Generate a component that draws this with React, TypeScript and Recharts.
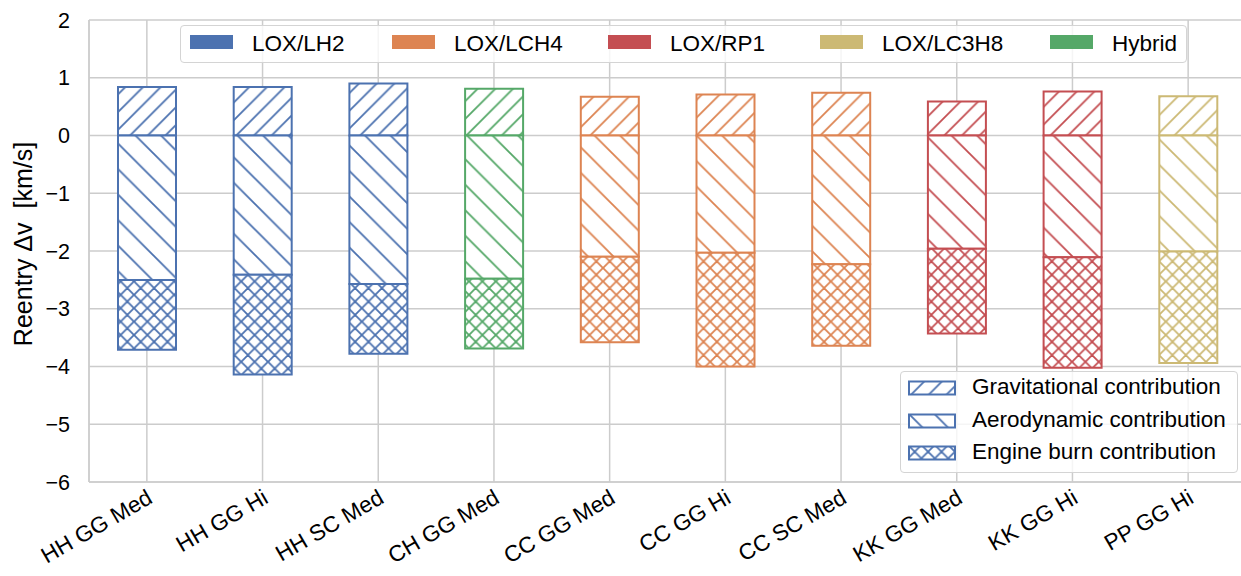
import { Bar, BarChart, CartesianGrid, Cell, XAxis, YAxis } from 'recharts'

const categories = [
  'HH GG Med',
  'HH GG Hi',
  'HH SC Med',
  'CH GG Med',
  'CC GG Med',
  'CC GG Hi',
  'CC SC Med',
  'KK GG Med',
  'KK GG Hi',
  'PP GG Hi',
]
const propellants = [
  'LOX/LH2',
  'LOX/LH2',
  'LOX/LH2',
  'Hybrid',
  'LOX/LCH4',
  'LOX/LCH4',
  'LOX/LCH4',
  'LOX/RP1',
  'LOX/RP1',
  'LOX/LC3H8',
]
const gravitational = [0.84, 0.84, 0.9, 0.81, 0.67, 0.71, 0.74, 0.59, 0.76, 0.68]
const aerodynamic = [-2.5, -2.41, -2.57, -2.48, -2.1, -2.03, -2.23, -1.96, -2.11, -2.01]
const engineBurn = [-1.21, -1.73, -1.21, -1.21, -1.48, -1.97, -1.41, -1.47, -1.91, -1.93]
const yTicks = [-6, -5, -4, -3, -2, -1, 0, 1, 2]

const fuelNames = ['LOX/LH2', 'LOX/LCH4', 'LOX/RP1', 'LOX/LC3H8', 'Hybrid']
const fuelColors = ['#4c72b0', '#dd8452', '#c44e52', '#ccb974', '#55a868']
const contributionNames = ['Gravitational contribution', 'Aerodynamic contribution', 'Engine burn contribution']

const data = categories.map((name, i) => ({
  name,
  fuel: propellants[i],
  grav: gravitational[i],
  aero: aerodynamic[i],
  engine: engineBurn[i],
}))

const FONT = '"Liberation Sans", Arial, Helvetica, sans-serif'
const GRID = '#cccccc'

type Kind = 'grav' | 'aero' | 'engine'
const hatchSpacing: Record<Kind, number> = { grav: 17.7, aero: 25.5, engine: 13.4 }

function hatchPath(kind: Kind) {
  const p = hatchSpacing[kind]
  const fwd = `M0,${p} L${p},0 M${-p / 2},${p / 2} L${p / 2},${-p / 2} M${p / 2},${1.5 * p} L${1.5 * p},${p / 2}`
  const back = `M0,0 L${p},${p} M${-p / 2},${p / 2} L${p / 2},${1.5 * p} M${p / 2},${-p / 2} L${1.5 * p},${p / 2}`
  if (kind === 'grav') return fwd
  if (kind === 'aero') return back
  return `${fwd} ${back}`
}

function HatchPattern({ id, kind, color }: { id: string; kind: Kind; color: string }) {
  const p = hatchSpacing[kind]
  return (
    <pattern id={id} patternUnits="userSpaceOnUse" width={p} height={p}>
      <rect width={p} height={p} fill="#ffffff" />
      <path d={hatchPath(kind)} stroke={color} strokeWidth={1.8} fill="none" />
    </pattern>
  )
}

const kinds: Kind[] = ['grav', 'aero', 'engine']

function patternId(kind: Kind, fuel: string) {
  return `${kind}-${fuelNames.indexOf(fuel)}`
}

function XTick({ x, y, payload }: any) {
  const ax = x + 7
  const ay = y + 20
  return (
    <text
      x={ax}
      y={ay}
      textAnchor="end"
      transform={`rotate(-30 ${ax} ${ay})`}
      fontSize={22.5}
      fontFamily={FONT}
      fill="#000"
    >
      {payload.value}
    </text>
  )
}

function YTick({ x, y, payload }: any) {
  const v = payload.value as number
  return (
    <text x={x - 19} y={y + 7.5} textAnchor="end" fontSize={21.5} fontFamily={FONT} fill="#000">
      {v < 0 ? `\u2212${Math.abs(v)}` : `${v}`}
    </text>
  )
}

function YLabel() {
  return (
    <text
      x={32}
      y={244}
      transform="rotate(-90 32 244)"
      textAnchor="middle"
      fontSize={25}
      fontFamily={FONT}
      fill="#000"
      style={{ whiteSpace: 'pre' }}
    >
      {'Reentry \u0394v  [km/s]'}
    </text>
  )
}

function FuelLegend() {
  const swatchX = [10, 212, 428, 640, 870]
  return (
    <div
      style={{
        position: 'absolute',
        left: 180,
        top: 25,
        width: 1007,
        height: 38,
        boxSizing: 'border-box',
        border: '1.2px solid #d4d4d4',
        borderRadius: 4,
        background: 'rgba(255,255,255,0.8)',
        fontFamily: FONT,
        fontSize: 22.5,
      }}
    >
      {fuelNames.map((name, i) => (
        <div key={name}>
          <div
            style={{
              position: 'absolute',
              left: swatchX[i] - 1,
              top: 9,
              width: 43,
              height: 14,
              background: fuelColors[i],
            }}
          />
          <div style={{ position: 'absolute', left: swatchX[i] - 1 + 62, top: 0, lineHeight: '36px', whiteSpace: 'nowrap' }}>
            {name}
          </div>
        </div>
      ))}
    </div>
  )
}

function ContributionLegend() {
  const rows = [16, 49, 81]
  return (
    <div
      style={{
        position: 'absolute',
        left: 900,
        top: 371,
        width: 338,
        height: 102,
        boxSizing: 'border-box',
        border: '1.2px solid #d4d4d4',
        borderRadius: 4,
        background: 'rgba(255,255,255,0.8)',
        fontFamily: FONT,
        fontSize: 22.5,
      }}
    >
      {contributionNames.map((name, i) => (
        <div key={name}>
          <svg style={{ position: 'absolute', left: 7, top: rows[i] - 8 }} width={48} height={16}>
            <defs>
              <HatchPattern id={`leg-${kinds[i]}`} kind={kinds[i]} color={fuelColors[0]} />
            </defs>
            <rect x={1} y={1.5} width={46} height={13} fill={`url(#leg-${kinds[i]})`} stroke={fuelColors[0]} strokeWidth={2} />
          </svg>
          <div
            style={{
              position: 'absolute',
              left: 71,
              top: rows[i] - 17,
              lineHeight: '32px',
              whiteSpace: 'nowrap',
            }}
          >
            {name}
          </div>
        </div>
      ))}
    </div>
  )
}

export default function App() {
  return (
    <div style={{ position: 'relative', width: 1260, height: 576, background: '#fff' }}>
      <style>{'body{margin:0;overflow:hidden;background:#fff}'}</style>
      <BarChart
        width={1260}
        height={576}
        data={data}
        stackOffset="sign"
        barSize={58}
        margin={{ top: 20, right: 14, bottom: 0, left: 0 }}
      >
        <defs>
          {kinds.map((kind) =>
            fuelNames.map((fuel, i) => (
              <HatchPattern key={`${kind}-${i}`} id={patternId(kind, fuel)} kind={kind} color={fuelColors[i]} />
            )),
          )}
        </defs>
        <CartesianGrid stroke={GRID} strokeWidth={1.5} />
        <XAxis
          dataKey="name"
          interval={0}
          height={94}
          tickLine={false}
          tickSize={0}
          tickMargin={0}
          axisLine={{ stroke: GRID, strokeWidth: 1.5 }}
          tick={<XTick />}
        />
        <YAxis
          width={89}
          domain={[-6, 2]}
          ticks={yTicks}
          tickLine={false}
          tickSize={0}
          tickMargin={0}
          axisLine={{ stroke: GRID, strokeWidth: 1.5 }}
          tick={<YTick />}
          label={<YLabel />}
        />
        {kinds.map((kind) => (
          <Bar key={kind} dataKey={kind} stackId="dv" isAnimationActive={false} strokeWidth={2}>
            {data.map((d) => (
              <Cell
                key={d.name}
                fill={`url(#${patternId(kind, d.fuel)})`}
                stroke={fuelColors[fuelNames.indexOf(d.fuel)]}
              />
            ))}
          </Bar>
        ))}
      </BarChart>
      <FuelLegend />
      <ContributionLegend />
    </div>
  )
}
